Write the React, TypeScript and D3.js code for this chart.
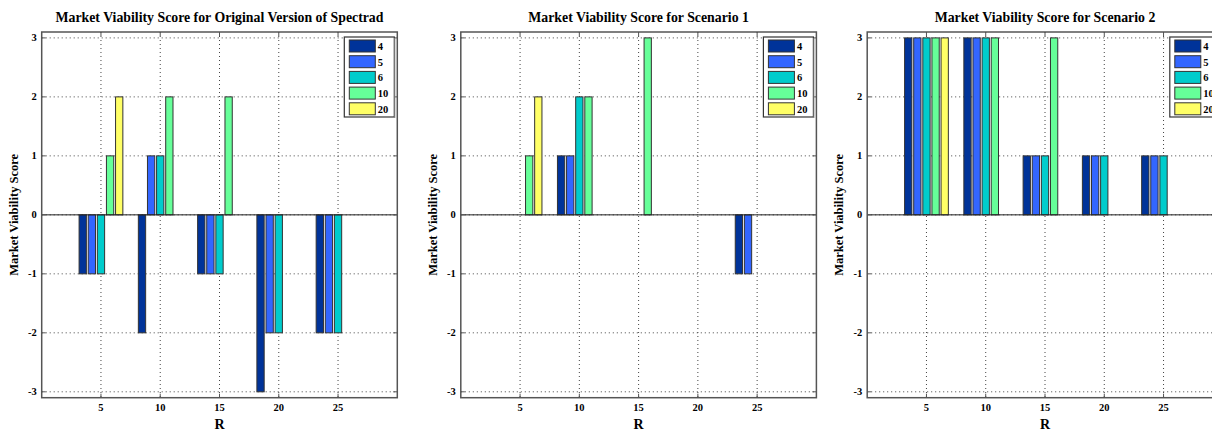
import React from "react";
import * as d3 from "d3";

// R values on the x axis and the legend series
const rValues = [5, 10, 15, 20, 25];
const seriesNames = ["4", "5", "6", "10", "20"];
const seriesColors = ["#003399", "#3366ff", "#00cccc", "#66ff99", "#ffff66"];
const yTicks = [-3, -2, -1, 0, 1, 2, 3];
const xTicks = [5, 10, 15, 20, 25];

// scores[series][rIndex]
const originalScores = [
  [-1, -2, -1, -3, -2],
  [-1, 1, -1, -2, -2],
  [-1, 1, -1, -2, -2],
  [1, 2, 2, 0, 0],
  [2, 0, 0, 0, 0],
];
const scenario1Scores = [
  [0, 1, 0, 0, -1],
  [0, 1, 0, 0, -1],
  [0, 2, 0, 0, 0],
  [1, 2, 3, 0, 0],
  [2, 0, 0, 0, 0],
];
const scenario2Scores = [
  [3, 3, 1, 1, 1],
  [3, 3, 1, 1, 1],
  [3, 3, 1, 1, 1],
  [3, 3, 3, 0, 0],
  [3, 0, 0, 0, 0],
];

const panelTitles = [
  "Market Viability Score for Original Version of Spectrad",
  "Market Viability Score for Scenario 1",
  "Market Viability Score for Scenario 2",
];
const panelData = [originalScores, scenario1Scores, scenario2Scores];
const panelLefts = [41.7, 460.8, 867.2];

const W = 1212;
const H = 431;
const axW = 355.6;
const axTop = 32;
const axBottom = 397.7;
const FONT = "'Liberation Serif', 'Times New Roman', serif";

function Panel({ left, title, data }: { left: number; title: string; data: number[][] }) {
  const x = d3.scaleLinear().domain([0, 30]).range([left, left + axW]);
  const y = d3.scaleLinear().domain([-3.1, 3.1]).range([axBottom, axTop]);
  const n = seriesNames.length;
  const groupWidth = Math.min(0.8, n / (n + 1.5)) * 5;
  const slot = groupWidth / n;
  const barW = slot * 0.8;
  const right = left + axW;
  const tickLen = 4;

  return (
    <g>
      <text x={(left + right) / 2} y={22} textAnchor="middle" fontFamily={FONT} fontWeight="bold" fontSize={13.8}>
        {title}
      </text>
      {/* dotted grid */}
      {yTicks.map((t) => (
        <line key={"gy" + t} x1={left} x2={right} y1={y(t)} y2={y(t)} stroke="#444" strokeWidth={1} strokeDasharray="1,3" />
      ))}
      {xTicks.map((t) => (
        <line key={"gx" + t} x1={x(t)} x2={x(t)} y1={axTop} y2={axBottom} stroke="#444" strokeWidth={1} strokeDasharray="1,3" />
      ))}
      {/* bars */}
      {data.map((vals, si) =>
        vals.map((v, ri) => {
          const cx = x(rValues[ri] + (si - (n - 1) / 2) * slot);
          const w = x(barW) - x(0);
          const x0 = cx - w / 2;
          const y0 = Math.min(y(v), y(0));
          const h = Math.abs(y(v) - y(0));
          return (
            <rect key={si + "-" + ri} x={x0} y={y0} width={w} height={h} fill={seriesColors[si]} stroke="#333" strokeWidth={1} />
          );
        })
      )}
      {/* baseline */}
      <line x1={left} x2={right} y1={y(0)} y2={y(0)} stroke="#222" strokeWidth={1} />
      {/* axes box */}
      <rect x={left} y={axTop} width={axW} height={axBottom - axTop} fill="none" stroke="#555" strokeWidth={1.5} />
      {yTicks.map((t) => (
        <g key={"ty" + t}>
          <line x1={left} x2={left + tickLen} y1={y(t)} y2={y(t)} stroke="#555" />
          <line x1={right} x2={right - tickLen} y1={y(t)} y2={y(t)} stroke="#555" />
          <text x={left - 5} y={y(t) + 3.5} textAnchor="end" fontFamily={FONT} fontWeight="bold" fontSize={10.5}>
            {t}
          </text>
        </g>
      ))}
      {xTicks.map((t) => (
        <g key={"tx" + t}>
          <line x1={x(t)} x2={x(t)} y1={axBottom} y2={axBottom - tickLen} stroke="#555" />
          <line x1={x(t)} x2={x(t)} y1={axTop} y2={axTop + tickLen} stroke="#555" />
          <text x={x(t)} y={axBottom + 13} textAnchor="middle" fontFamily={FONT} fontWeight="bold" fontSize={10.5}>
            {t}
          </text>
        </g>
      ))}
      <text x={(left + right) / 2} y={429} textAnchor="middle" fontFamily={FONT} fontWeight="bold" fontSize={14}>
        R
      </text>
      <text
        transform={`translate(${left - 24},${(axTop + axBottom) / 2}) rotate(-90)`}
        textAnchor="middle"
        fontFamily={FONT}
        fontWeight="bold"
        fontSize={12.5}
      >
        Market Viability Score
      </text>
      {/* legend */}
      <g transform={`translate(${right - 53},${axTop + 5})`}>
        <rect x={0} y={0} width={50} height={80} fill="#fff" stroke="#333" strokeWidth={1.2} />
        <line x1={50.5} x2={50.5} y1={1} y2={81} stroke="#888" />
        <line x1={1} x2={50.5} y1={80.5} y2={80.5} stroke="#888" />
        {seriesNames.map((s, i) => (
          <g key={s} transform={`translate(5,${3 + i * 15.7})`}>
            <rect x={0} y={0} width={26} height={12} fill={seriesColors[i]} stroke="#333" />
            <text x={28.5} y={10} fontFamily={FONT} fontWeight="bold" fontSize={10.5}>
              {s}
            </text>
          </g>
        ))}
      </g>
    </g>
  );
}

export default function App() {
  return (
    <div style={{ position: "absolute", left: 0, top: 0 }}>
      <svg width={W} height={H} style={{ display: "block", background: "#fff" }}>
        {panelLefts.map((l, i) => (
          <Panel key={i} left={l} title={panelTitles[i]} data={panelData[i]} />
        ))}
      </svg>
    </div>
  );
}
